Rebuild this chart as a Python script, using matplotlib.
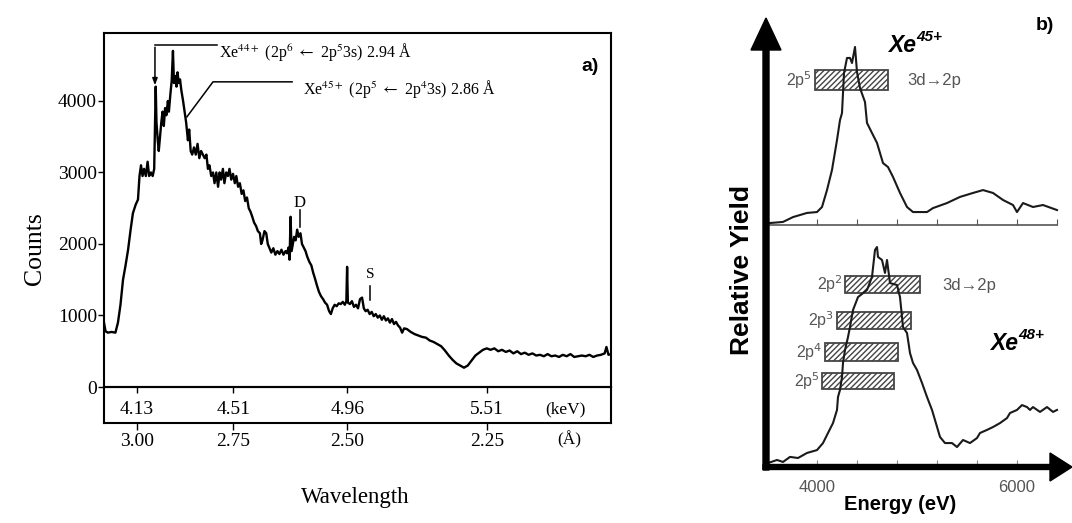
import matplotlib
matplotlib.use("Agg")
import matplotlib.pyplot as plt
from matplotlib.patches import Rectangle, FancyArrow

# ---------------- Panel a data (energy in keV, counts) ----------------
a_energy = [4.000, 4.006, 4.015, 4.030, 4.045, 4.055, 4.065, 4.075, 4.085, 4.095,
            4.105, 4.114, 4.125, 4.134, 4.140, 4.146, 4.152, 4.158, 4.165, 4.172,
            4.178, 4.185, 4.192, 4.198, 4.201, 4.204, 4.207, 4.212, 4.216, 4.221,
            4.226, 4.231, 4.236, 4.241, 4.246, 4.252, 4.256, 4.262, 4.267, 4.272,
            4.276, 4.281, 4.286, 4.290, 4.295, 4.300, 4.305, 4.312, 4.318, 4.324,
            4.331, 4.336, 4.342, 4.348, 4.355, 4.362, 4.369, 4.376, 4.383, 4.390,
            4.397, 4.404, 4.410, 4.416, 4.423, 4.430, 4.436, 4.443, 4.450, 4.456,
            4.462, 4.469, 4.475, 4.482, 4.489, 4.495, 4.502, 4.509, 4.516, 4.522,
            4.529, 4.536, 4.543, 4.550, 4.557, 4.564, 4.571, 4.578, 4.585, 4.592,
            4.600, 4.607, 4.615, 4.620, 4.625, 4.633, 4.640, 4.646, 4.652, 4.660,
            4.668, 4.676, 4.684, 4.692, 4.700, 4.708, 4.716, 4.722, 4.728, 4.732,
            4.736, 4.740, 4.745, 4.750, 4.756, 4.762, 4.768, 4.775, 4.781, 4.788,
            4.795, 4.802, 4.810, 4.818, 4.825, 4.832, 4.840, 4.848, 4.856, 4.864,
            4.872, 4.880, 4.888, 4.895, 4.902, 4.910, 4.918, 4.926, 4.934, 4.942,
            4.950, 4.956, 4.959, 4.962, 4.970, 4.978, 4.986, 4.994, 5.002, 5.010,
            5.018, 5.025, 5.032, 5.040, 5.048, 5.056, 5.064, 5.072, 5.080, 5.088,
            5.096, 5.104, 5.112, 5.120, 5.128, 5.136, 5.144, 5.152, 5.160, 5.168,
            5.176, 5.184, 5.195, 5.210, 5.225, 5.240, 5.255, 5.270, 5.285, 5.300,
            5.315, 5.330, 5.345, 5.360, 5.375, 5.390, 5.405, 5.420, 5.435, 5.450,
            5.465, 5.480, 5.495, 5.510, 5.525, 5.540, 5.555, 5.570, 5.585, 5.600,
            5.615, 5.630, 5.645, 5.660, 5.675, 5.690, 5.705, 5.720, 5.735, 5.750,
            5.765, 5.780, 5.795, 5.810, 5.825, 5.840, 5.855, 5.870, 5.885, 5.900,
            5.915, 5.930, 5.945, 5.960, 5.975, 5.982, 5.990, 6.000]
a_counts = [900, 780, 760, 770, 760, 900, 1150, 1500, 1700, 1920,
            2200, 2430, 2550, 2620, 2950, 3100, 2950, 3050, 2950, 3150,
            2950, 3000, 2950, 3050, 3600, 4200, 3700, 3450, 3300, 3500,
            3700, 3850, 3650, 3900, 3800, 4000, 3850, 4100, 4280, 4700,
            4250, 4350, 4200, 4400, 4250, 4300, 4150, 4000, 3850, 3700,
            3450, 3600, 3300, 3250, 3350, 3250, 3400, 3200, 3300, 3250,
            3200, 3250, 3050, 3100, 2950, 3000, 2850, 3000, 2800, 3000,
            2900, 3050, 2850, 3000, 2950, 3050, 2900, 2980, 2850, 2950,
            2800, 2850, 2700, 2750, 2600, 2650, 2500, 2450, 2380, 2300,
            2250, 2180, 2150, 2000, 2050, 2180, 2150, 2000, 1950, 1880,
            1940, 1850, 1900, 1860, 1920, 1850, 1900, 1870, 1950, 1780,
            2380, 1900, 2000, 2100, 2050, 2200, 2100, 2150, 2000, 1950,
            1900, 1820, 1750, 1700, 1600, 1520, 1420, 1330, 1270, 1230,
            1180, 1150, 1060, 1020, 1100, 1150, 1130, 1170, 1160, 1190,
            1150, 1200, 1680, 1180, 1160, 1200, 1120, 1150, 1100, 1230,
            1250, 1100, 1060, 1080, 1020, 1050, 990, 1020, 970, 1000,
            940, 990, 930, 960, 900, 950, 880, 910, 860, 830,
            760, 820, 810, 770, 740, 720, 700, 690, 650, 630,
            600, 570, 510, 440, 380, 330, 300, 270, 300, 370,
            440, 480, 520, 540, 520, 540, 500, 520, 490, 510,
            470, 500, 460, 480, 450, 470, 440, 450, 430, 460,
            430, 440, 420, 450, 430, 460, 420, 430, 440, 430,
            450, 420, 440, 450, 470, 560, 450, 460]

a_yticks = [0, 1000, 2000, 3000, 4000]
a_kev_ticks = [4.13, 4.51, 4.96, 5.51]
a_kev_labels = ["4.13", "4.51", "4.96", "5.51"]
a_ang_labels = ["3.00", "2.75", "2.50", "2.25"]

# ---------------- Panel b data (energy in eV, relative yield) ----------------
b45_energy = [3530, 3660, 3760, 3900, 4000, 4050, 4100, 4150, 4200, 4230,
              4250, 4260, 4270, 4300, 4330, 4350, 4380, 4400, 4430, 4480,
              4500, 4550, 4600, 4660, 4710, 4760, 4830, 4900, 4960, 5100,
              5160, 5300, 5430, 5560, 5660, 5760, 5860, 5960, 6000, 6060,
              6160, 6260, 6400]
b45_yield = [0.011, 0.017, 0.044, 0.067, 0.072, 0.10, 0.194, 0.306, 0.472, 0.583,
             0.622, 0.733, 0.844, 0.928, 0.928, 0.90, 0.989, 0.85, 0.761, 0.683,
             0.567, 0.511, 0.456, 0.344, 0.322, 0.267, 0.178, 0.10, 0.072, 0.072,
             0.094, 0.122, 0.156, 0.178, 0.194, 0.178, 0.139, 0.111, 0.072, 0.122,
             0.10, 0.111, 0.083]

b48_energy = [3510, 3600, 3660, 3730, 3810, 3900, 4000, 4060, 4110, 4160,
              4200, 4210, 4230, 4250, 4260, 4280, 4310, 4330, 4360, 4410,
              4500, 4550, 4580, 4600, 4610, 4650, 4680, 4700, 4730, 4800,
              4830, 4860, 4900, 4930, 4960, 5000, 5050, 5100, 5150, 5180,
              5230, 5280, 5350, 5400, 5460, 5530, 5600, 5630, 5700, 5760,
              5830, 5900, 5930, 6000, 6050, 6100, 6130, 6160, 6230, 6300,
              6360, 6400]
b48_yield = [0.022, 0.039, 0.028, 0.056, 0.05, 0.078, 0.094, 0.133, 0.189, 0.244,
             0.317, 0.389, 0.428, 0.50, 0.578, 0.65, 0.722, 0.778, 0.872, 0.944,
             0.983, 1.056, 1.206, 1.222, 1.167, 1.15, 1.078, 1.15, 1.022, 1.011,
             0.944, 0.778, 0.744, 0.633, 0.578, 0.539, 0.467, 0.389, 0.317, 0.261,
             0.167, 0.133, 0.133, 0.111, 0.15, 0.133, 0.161, 0.189, 0.206, 0.222,
             0.244, 0.272, 0.30, 0.317, 0.344, 0.333, 0.317, 0.333, 0.306, 0.333,
             0.306, 0.317]

b_xticks = [4000, 4400, 4800, 5200, 5600, 6000, 6400]
b_xlabels = ["4000", "", "", "", "", "6000", ""]

b45_box_labels = ["2p$^5$"]
b45_box_lo = [3980]
b45_box_hi = [4710]
b45_box_bottom = [0.75]
b45_box_top = [0.861]

b48_box_labels = ["2p$^2$", "2p$^3$", "2p$^4$", "2p$^5$"]
b48_box_lo = [4280, 4200, 4080, 4050]
b48_box_hi = [5030, 4940, 4810, 4770]
b48_box_bottom = [0.967, 0.767, 0.589, 0.433]
b48_box_top = [1.061, 0.861, 0.689, 0.522]

W, H = 1072, 523
SERIF = ["Liberation Serif", "DejaVu Serif"]
SANS = ["Liberation Sans", "DejaVu Sans"]
plt.rcParams["mathtext.fontset"] = "stix"
plt.rcParams["hatch.linewidth"] = 1.0

fig = plt.figure(figsize=(W / 100, H / 100), dpi=100)


def px_axes(x0, y_top, x1, y_bot):
    return fig.add_axes([x0 / W, (H - y_bot) / H, (x1 - x0) / W, (y_bot - y_top) / H])


# ================= Panel a =================
ax1 = px_axes(104, 33, 611, 387)
ax1.plot(a_energy, a_counts, color="black", lw=1.7)
ax1.set_xlim(4.0, 6.0)
ax1.set_ylim(0, 4950)
ax1.set_xticks([])
ax1.set_yticks(a_yticks)
ax1.set_yticklabels([str(v) for v in a_yticks], family=SERIF, fontsize=14)
ax1.tick_params(axis="y", direction="out", length=4, width=1, pad=1)
for s in ax1.spines.values():
    s.set_linewidth(1.5)
fig.text(35 / W, (H - 249) / H, "Counts", rotation=90, family=SERIF,
         fontsize=18.5, ha="center", va="center")

# annotations
ax1.plot([4.446, 4.201], [4785, 4785], color="black", lw=1.1)
ax1.annotate("", xy=(4.201, 4180), xytext=(4.201, 4790),
             arrowprops=dict(arrowstyle="-|>,head_length=0.4,head_width=0.15",
                             color="black", lw=1.1))
ax1.text(4.452, 4610, r"Xe$^{44+}$ (2p$^6$ $\leftarrow$ 2p$^5$3s) 2.94 Å",
         family="Liberation Serif", fontsize=11.5, ha="left", va="baseline")
ax1.plot([4.327, 4.430, 4.742], [3777, 4267, 4267], color="black", lw=1.1)
ax1.text(4.785, 4095, r"Xe$^{45+}$ (2p$^5$ $\leftarrow$ 2p$^4$3s) 2.86 Å",
         family="Liberation Serif", fontsize=11.5, ha="left", va="baseline")
ax1.text(4.773, 2575, "D", family=SERIF, fontsize=12, ha="center", va="center")
ax1.plot([4.775, 4.775], [2480, 2240], color="black", lw=1.1)
ax1.text(5.049, 1567, "S", family=SERIF, fontsize=11, ha="center", va="center")
ax1.plot([5.049, 5.049], [1413, 1217], color="black", lw=1.1)
ax1.text(0.959, 0.904, "a)", transform=ax1.transAxes, family=SANS,
         fontweight="bold", fontsize=14, ha="center", va="center")

# energy / wavelength band
ax2 = px_axes(104, 387, 611, 423)
ax2.set_xlim(4.0, 6.0)
ax2.set_ylim(0, 1)
ax2.set_yticks([])
ax2.set_xticks(a_kev_ticks)
ax2.set_xticklabels(a_ang_labels, family=SERIF, fontsize=14)
ax2.tick_params(axis="x", direction="out", length=5, width=1, pad=2)
for s in ax2.spines.values():
    s.set_linewidth(1.5)
sec = ax2.secondary_xaxis("top")
sec.set_xticks(a_kev_ticks)
sec.set_xticklabels([""] * len(a_kev_ticks))
sec.tick_params(direction="in", length=4, width=1)
for e, lab in zip(a_kev_ticks, a_kev_labels):
    ax2.text(e, 0.38, lab, family=SERIF, fontsize=14, ha="center", va="center")
ax2.text(5.822, 0.38, "(keV)", family=SERIF, fontsize=12.5, ha="center", va="center")
ax2.text(5.834, -0.45, "(Å)", family=SERIF, fontsize=12.5, ha="center", va="center")
fig.text(355 / W, (H - 497) / H, "Wavelength", family=SERIF, fontsize=16.5,
         ha="center", va="center")

# ================= Panel b =================
GRAY = "#555555"
HATCH = "#444444"
LINE = "#1a1a1a"
# upper: Xe45+
bu = px_axes(765, 45, 1057, 225)
bu.plot(b45_energy, b45_yield, color=LINE, lw=1.5, clip_on=False)
bu.set_xlim(3480, 6400)
bu.set_ylim(0, 1.0)
for k in ["top", "right", "left"]:
    bu.spines[k].set_visible(False)
bu.spines["bottom"].set_color(GRAY)
bu.spines["bottom"].set_linewidth(1.2)
bu.set_yticks([])
bu.set_xticks(b_xticks)
bu.set_xticklabels([""] * len(b_xticks))
bu.tick_params(axis="x", direction="in", length=4, color=GRAY)
bu.patch.set_alpha(0)
for lab, lo, hi, b0, t0 in zip(b45_box_labels, b45_box_lo, b45_box_hi,
                               b45_box_bottom, b45_box_top):
    bu.add_patch(Rectangle((lo, b0), hi - lo, t0 - b0, fill=False,
                           hatch="//////", edgecolor=HATCH, lw=1.3))
    bu.text(lo - 30, (b0 + t0) / 2, lab, family=SANS, fontsize=11.5,
            color=GRAY, ha="right", va="center", math_fontfamily="dejavusans")
bu.text(4900, 0.805, "3d→2p", family=SANS, fontsize=12, color=GRAY,
        ha="left", va="center")

# lower: Xe48+
bl = px_axes(765, 245, 1057, 467)
bl.plot(b48_energy, b48_yield, color=LINE, lw=1.5, clip_on=False)
bl.set_xlim(3480, 6400)
bl.set_ylim(0, 1.2333)
for k in ["top", "right", "left", "bottom"]:
    bl.spines[k].set_visible(False)
bl.set_yticks([])
bl.set_xticks(b_xticks[:-1])
bl.set_xticklabels(b_xlabels[:-1], family=SANS, fontsize=12, color=GRAY)
bl.tick_params(axis="x", direction="in", length=5, color="#888888", pad=9)
bl.patch.set_alpha(0)
for lab, lo, hi, b0, t0 in zip(b48_box_labels, b48_box_lo, b48_box_hi,
                               b48_box_bottom, b48_box_top):
    bl.add_patch(Rectangle((lo, b0), hi - lo, t0 - b0, fill=False,
                           hatch="//////", edgecolor=HATCH, lw=1.3))
    bl.text(lo - 25, (b0 + t0) / 2, lab, family=SANS, fontsize=11.5,
            color=GRAY, ha="right", va="center", math_fontfamily="dejavusans")
bl.text(5250, 1.01, "3d→2p", family=SANS, fontsize=12, color=GRAY,
        ha="left", va="center")

# overlay for axis arrows and panel labels (pixel coordinates)
ov = fig.add_axes([0, 0, 1, 1])
ov.set_xlim(0, W)
ov.set_ylim(H, 0)
ov.axis("off")
ov.patch.set_alpha(0)
ov.add_patch(FancyArrow(766, 470, 0, -420, width=6, head_width=30, head_length=32,
                        length_includes_head=False, color="black"))
ov.add_patch(FancyArrow(763, 467, 287, 0, width=5, head_width=28, head_length=22,
                        length_includes_head=False, color="black"))
ov.text(742, 270, "Relative Yield", rotation=90, family=SANS, fontweight="bold",
        fontsize=19, ha="center", va="center")
ov.text(900, 505, "Energy (eV)", family=SANS, fontweight="bold", fontsize=14.5,
        ha="center", va="center")
ov.text(1045, 25, "b)", family=SANS, fontweight="bold", fontsize=14,
        ha="center", va="center")
for (xx, yy, sup) in [(888, 52, "45+"), (990, 350, "48+")]:
    ov.text(xx, yy, "Xe", family=SANS, fontweight="bold", style="italic",
            fontsize=16.5, ha="left", va="baseline")
    ov.text(xx + 28, yy - 11, sup, family=SANS, fontweight="bold", style="italic",
            fontsize=11, ha="left", va="baseline")

fig.savefig("out.png", dpi=100)
